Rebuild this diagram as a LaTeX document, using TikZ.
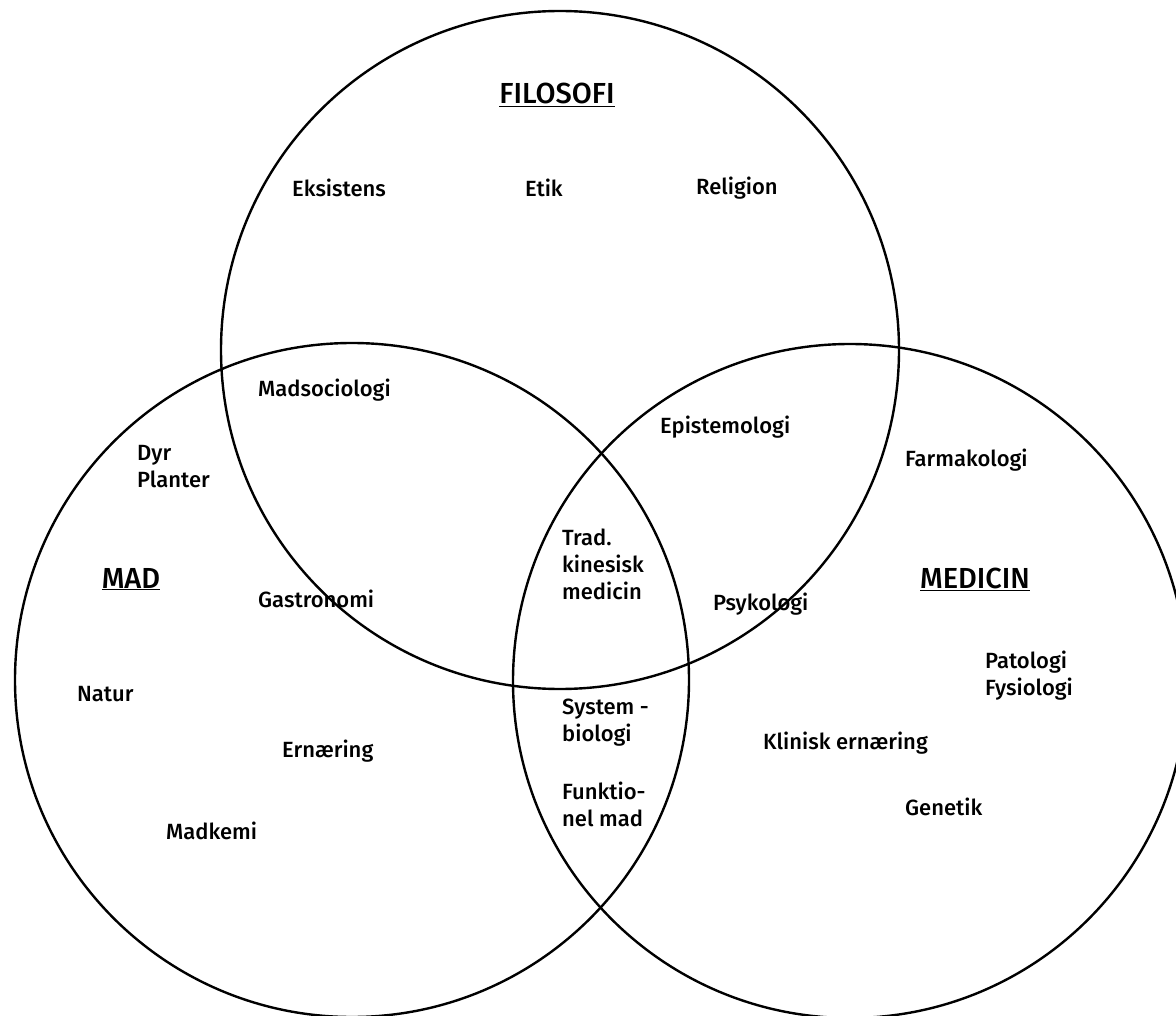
\documentclass[tikz,border=0pt]{standalone}
\usepackage{fontspec}
\setmainfont{Fira Sans Medium}
\begin{document}
\begin{tikzpicture}[x=1pt,y=-1pt,
  ring/.style={draw=black,line width=2.4pt},
  lbl/.style={font=\fontsize{22}{27}\selectfont,align=left,anchor=west,inner sep=0pt},
  ttl/.style={font=\fontsize{29}{32}\selectfont,anchor=base,inner sep=0pt}]
\useasboundingbox (0,0) rectangle (1176,1016);
\clip (0,0) rectangle (1176,1016);
\fill[white] (0,0) rectangle (1176,1016);
\draw[ring] (560,350) circle[radius=339pt];
\draw[ring] (352,680) circle[radius=337pt];
\draw[ring] (850,681) circle[radius=337pt];
% titles
\node[ttl] (filo) at (557,104) {\underline{FILOSOFI}};
\node[ttl] (mad) at (131,588) {\underline{MAD}};
\node[ttl] (med) at (975,588) {\underline{MEDICIN}};
% labels
\node[lbl] (eks) at (292,188) {Eksistens};
\node[lbl] (etik) at (525,188) {Etik};
\node[lbl] (rel) at (696,188) {Religion};
\node[lbl] (msoc) at (258,390) {Madsociologi};
\node[lbl] (epi) at (660,427) {Epistemologi};
\node[lbl] (farm) at (905,460) {Farmakologi};
\node[lbl] (dyr) at (137,467) {Dyr\\Planter};
\node[lbl] (trad) at (562,564) {Trad.\\kinesisk\\medicin};
\node[lbl] (gast) at (258,599) {Gastronomi};
\node[lbl] (psy) at (713,604) {Psykologi};
\node[lbl] (pat) at (985,676) {Patologi\\Fysiologi};
\node[lbl] (nat) at (77,694) {Natur};
\node[lbl] (sys) at (562,723) {System -\\biologi};
\node[lbl] (klin) at (763,743) {Klinisk ernæring};
\node[lbl] (ern) at (282,751) {Ernæring};
\node[lbl] (funk) at (562,804) {Funktio-\\nel mad};
\node[lbl] (gen) at (905,807) {Genetik};
\node[lbl] (mkem) at (166,831) {Madkemi};
\end{tikzpicture}
\end{document}
